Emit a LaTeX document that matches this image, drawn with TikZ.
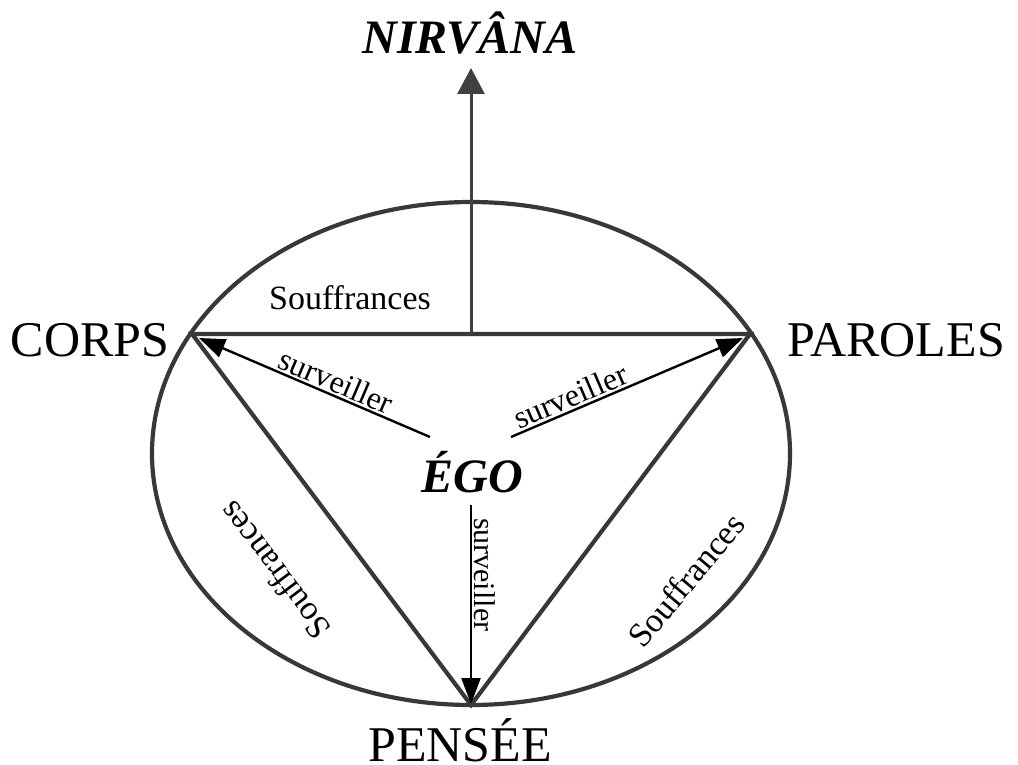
\documentclass[tikz,border=0pt]{standalone}
\usepackage{fontspec}
\setmainfont{Liberation Serif}
\usetikzlibrary{arrows.meta}
\tikzset{
  frame/.style={draw=black!78, line width=4.2pt},
  axis/.style={draw=black!75, line width=3pt, -{Triangle[width=27pt,length=26pt]}},
  watch/.style={draw=black, line width=2.4pt, -{Triangle[width=19pt,length=26pt]}},
  biglabel/.style={font=\fontsize{50}{50}\selectfont, inner sep=0pt},
  italabel/.style={font=\fontsize{48}{48}\selectfont\bfseries\itshape, inner sep=0pt},
  suff/.style={font=\fontsize{34}{34}\selectfont, inner sep=0pt},
  surv/.style={font=\fontsize{32}{32}\selectfont, inner sep=2pt}
}
\begin{document}
\begin{tikzpicture}[x=1pt,y=-1pt]
\useasboundingbox (0,0) rectangle (1018,765);
\coordinate (ctr) at (471,453.5);
\coordinate (C) at (192,334);
\coordinate (P) at (750,334);
\coordinate (Pe) at (471,705);
\coordinate (mid) at (471,334);
\coordinate (top) at (471,68);
\coordinate (e1) at (430,437);
\coordinate (e2) at (511,437);
\coordinate (e3) at (471,505);
\coordinate (tC) at (199,338);
\coordinate (tP) at (743,338);
\coordinate (tPe) at (471,704);

\draw[frame] (ctr) ellipse [x radius=319, y radius=251.5];
\draw[frame, line join=miter] (C) -- (P) -- (Pe) -- cycle;
\draw[axis] (mid) -- (top);

\draw[watch] (e1) -- node[pos=0.43, sloped, above, surv] (s1) {surveiller} (tC);
\draw[watch] (e2) -- node[pos=0.28, sloped, above, surv] (s2) {surveiller} (tP);
\draw[watch] (e3) -- node[pos=0.35, rotate=-90, anchor=south, surv, font=\fontsize{30}{30}\selectfont] (s3) {surveiller} (tPe);

\node[italabel] (nirv) at (470,33) {NIRVÂNA};
\node[italabel] (ego) at (472,472) {ÉGO};
\node[biglabel] (corps) at (90,340) {CORPS};
\node[biglabel] (paroles) at (896,340) {PAROLES};
\node[biglabel, anchor=base] (pensee) at (460,761) {PENSÉE};

\node[suff] (su1) at (350,298) {Souffrances};
\node[suff, rotate=127] (su2) at (274,571) {Souffrances};
\node[suff, rotate=50] (su3) at (686,580) {Souffrances};
\end{tikzpicture}
\end{document}
